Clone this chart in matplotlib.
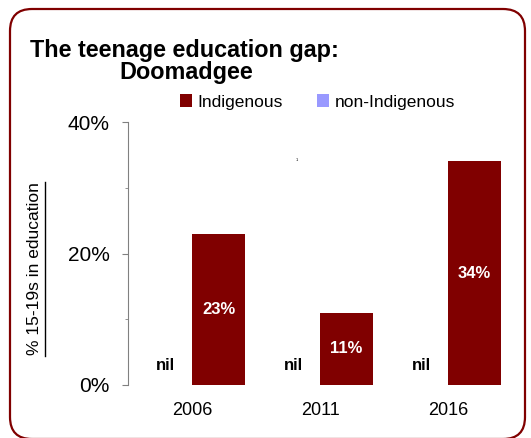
import numpy as np
import matplotlib.pyplot as plt
from matplotlib.patches import FancyBboxPatch
from matplotlib.transforms import IdentityTransform

years = ["2006", "2011", "2016"]
indigenous = [23, 11, 34]
non_indigenous = [0, 0, 0]
ind_labels = ["23%", "11%", "34%"]
non_labels = ["nil", "nil", "nil"]

plt.rcParams['font.family'] = ['Liberation Sans', 'DejaVu Sans']

dark_red = "#800000"
lilac = "#9999ff"

fig = plt.figure(figsize=(5.31, 4.38), dpi=100)
ax = fig.add_axes([128 / 531, 53 / 438, 384 / 531, 263 / 438])

x = np.arange(len(years))
w = 0.415
ax.bar(x - w / 2, non_indigenous, w, color=lilac, label="non-Indigenous")
ax.bar(x + w / 2, indigenous, w, color=dark_red, label="Indigenous")

for i in range(len(years)):
    ax.text(x[i] + w / 2, indigenous[i] / 2, ind_labels[i], color="white",
            fontsize=12, fontweight="bold", ha="center", va="center")
    ax.text(x[i] - w / 2, 3, non_labels[i], color="black",
            fontsize=12, fontweight="bold", ha="center", va="center")

ax.set_xlim(-0.5, 2.5)
ax.set_ylim(0, 40)
ax.set_yticks([0, 20, 40])
ax.set_yticklabels(["0%", "20%", "40%"], fontsize=15)
ax.set_yticks([10, 30], minor=True)
ax.tick_params(axis="y", which="major", length=4, color="#808080", pad=9)
ax.tick_params(axis="y", which="minor", length=2.2, color="#808080")
ax.set_xticks(x)
ax.set_xticklabels(years, fontsize=13)
ax.tick_params(axis="x", length=0, pad=12)
for s in ["top", "right", "bottom"]:
    ax.spines[s].set_visible(False)
ax.spines["left"].set_color("#808080")

# y label, underlined
fig.text(35 / 531, 1 - 269 / 438, "% 15-19s in education", fontsize=12.5,
         rotation=90, ha="center", va="center")
fig.add_artist(plt.Line2D([45 / 531, 45 / 531], [(438 - 356) / 438, (438 - 182) / 438],
                          color="black", lw=1, transform=fig.transFigure))

# stray small mark
ax.text(0.82, 34.2, "1", fontsize=3, ha="center", va="center")

fig.text(30 / 531, 1 - 50 / 438, "The teenage education gap:", fontsize=16.8,
         fontweight="bold", ha="left", va="center")
fig.text(186 / 531, 1 - 72 / 438, "Doomadgee", fontsize=16.8,
         fontweight="bold", ha="center", va="center")

handles, labels = ax.get_legend_handles_labels()
leg = fig.legend(handles[::-1], labels[::-1], loc="center left",
                 bbox_to_anchor=(164 / 531, 1 - 102 / 438), ncol=2, frameon=False,
                 prop={"size": 12.5}, handlelength=0.7,
                 handleheight=0.7, handletextpad=0.3, columnspacing=2.0)

border = FancyBboxPatch((10, -1), 515, 430, boxstyle="round,pad=0,rounding_size=22",
                        transform=IdentityTransform(), fill=False,
                        edgecolor=dark_red, lw=1.6)
fig.patches.append(border)

fig.savefig("out.png", dpi=100)
